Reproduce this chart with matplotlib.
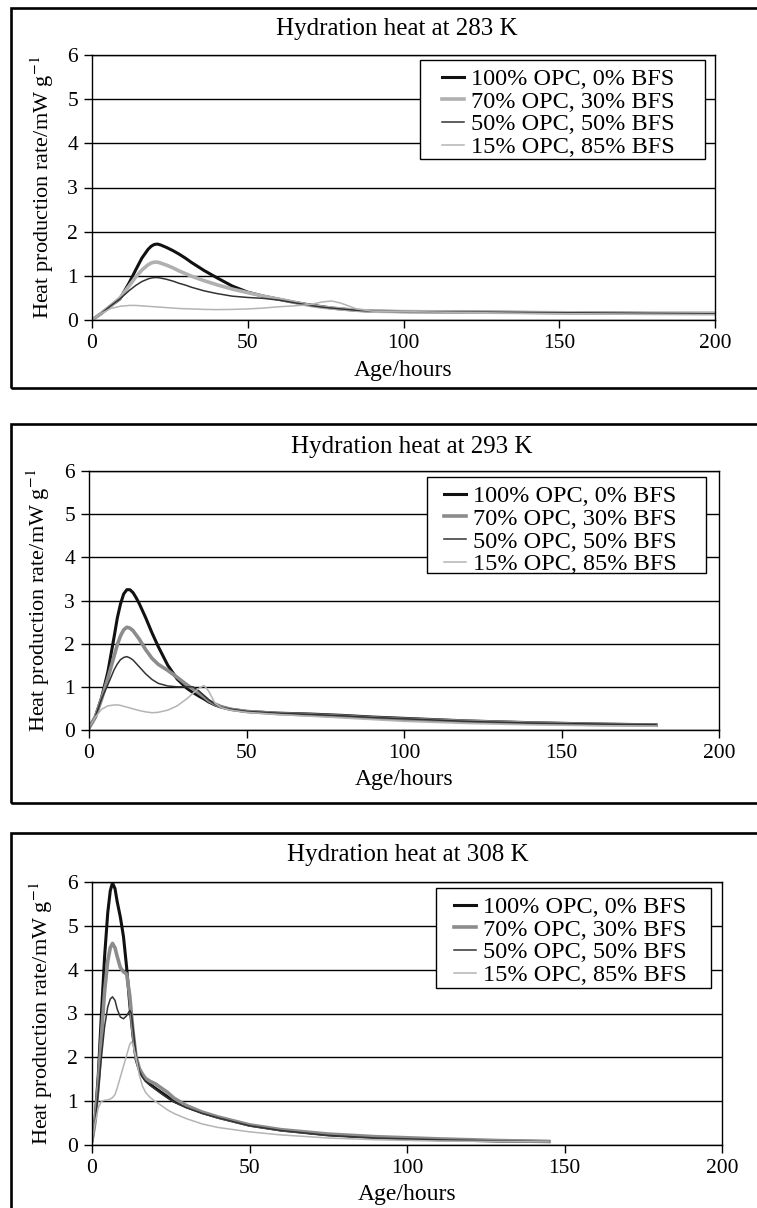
import numpy as np
import matplotlib
matplotlib.use('Agg')
import matplotlib.pyplot as plt
from matplotlib.patches import Rectangle

plt.rcParams['font.family'] = ['Liberation Serif', 'DejaVu Serif']
plt.rcParams['mathtext.fontset'] = 'stix'

labels = ['100% OPC, 0% BFS', '70% OPC, 30% BFS', '50% OPC, 50% BFS', '15% OPC, 85% BFS']

# 283 K
t283 = [0, 3, 6, 9, 12, 14, 16, 18, 19, 20, 21, 22, 24, 26, 28, 30, 32, 36, 40, 45, 50, 55, 60, 65,
        70, 74, 77, 80, 85, 90, 100, 120, 140, 160, 180, 200]
opc100_283 = [0, 0.15, 0.32, 0.48, 0.85, 1.13, 1.4, 1.6, 1.67, 1.71, 1.72, 1.7, 1.64, 1.57, 1.49, 1.4,
              1.3, 1.12, 0.96, 0.77, 0.63, 0.54, 0.47, 0.4, 0.34, 0.3, 0.27, 0.25, 0.22, 0.2, 0.19,
              0.18, 0.17, 0.16, 0.15, 0.15]
opc70_283 = [0, 0.15, 0.32, 0.5, 0.78, 0.97, 1.13, 1.25, 1.29, 1.31, 1.31, 1.29, 1.24, 1.18, 1.11, 1.05,
             0.99, 0.89, 0.8, 0.7, 0.62, 0.54, 0.47, 0.4, 0.33, 0.29, 0.27, 0.25, 0.22, 0.2, 0.19,
             0.18, 0.17, 0.16, 0.15, 0.15]
opc50_283 = [0, 0.15, 0.32, 0.48, 0.67, 0.78, 0.87, 0.93, 0.95, 0.96, 0.96, 0.95, 0.92, 0.88, 0.83, 0.79,
             0.74, 0.66, 0.6, 0.54, 0.51, 0.49, 0.45, 0.39, 0.33, 0.29, 0.27, 0.25, 0.22, 0.2, 0.19,
             0.18, 0.17, 0.16, 0.15, 0.14]
opc15_283 = [0, 0.15, 0.26, 0.31, 0.33, 0.33, 0.32, 0.31, 0.305, 0.3, 0.295, 0.29, 0.28, 0.27, 0.26, 0.255,
             0.25, 0.24, 0.235, 0.24, 0.25, 0.27, 0.3, 0.32, 0.35, 0.41, 0.43, 0.38, 0.25, 0.2, 0.19,
             0.17, 0.15, 0.14, 0.13, 0.12]

# 293 K
t293 = [0, 2, 4, 6, 8, 9, 10, 11, 12, 13, 14, 15, 16, 18, 20, 22, 25, 28, 31, 33, 35, 36.5, 38, 40,
        42, 45, 50, 60, 70, 80, 90, 100, 120, 140, 160, 180]
opc100_293 = [0.05, 0.3, 0.75, 1.35, 2.17, 2.6, 2.92, 3.15, 3.25, 3.25, 3.18, 3.06, 2.92, 2.6, 2.25, 1.93,
              1.5, 1.18, 0.97, 0.87, 0.78, 0.72, 0.65, 0.58, 0.53, 0.48, 0.43, 0.39, 0.37, 0.34, 0.3,
              0.27, 0.21, 0.17, 0.14, 0.12]
opc70_293 = [0.05, 0.3, 0.72, 1.2, 1.72, 1.98, 2.18, 2.32, 2.38, 2.36, 2.3, 2.2, 2.1, 1.86, 1.66, 1.52,
             1.38, 1.22, 1.05, 0.95, 0.85, 0.77, 0.68, 0.6, 0.54, 0.48, 0.43, 0.38, 0.35, 0.32, 0.28,
             0.25, 0.2, 0.16, 0.13, 0.11]
opc50_293 = [0.05, 0.3, 0.72, 1.05, 1.4, 1.53, 1.63, 1.68, 1.7, 1.67, 1.62, 1.54, 1.46, 1.3, 1.17, 1.08,
             1.02, 1.0, 1.0, 1.0, 0.9, 0.8, 0.7, 0.6, 0.53, 0.48, 0.43, 0.39, 0.36, 0.33, 0.29,
             0.26, 0.2, 0.16, 0.14, 0.12]
opc15_293 = [0.05, 0.3, 0.48, 0.56, 0.58, 0.58, 0.57, 0.55, 0.53, 0.51, 0.49, 0.47, 0.45, 0.42, 0.4, 0.41,
             0.46, 0.56, 0.72, 0.85, 0.97, 1.03, 0.9, 0.62, 0.52, 0.46, 0.41, 0.36, 0.32, 0.28, 0.24,
             0.2, 0.15, 0.12, 0.1, 0.09]

# 308 K
t308 = [0, 1, 2, 3, 4, 5, 5.8, 6.5, 7.3, 8, 9, 10, 11, 12, 12.5, 13, 14, 15, 16, 17, 18.5, 20, 22,
        24, 26, 30, 35, 40, 50, 60, 75, 90, 110, 130, 145]
opc100_308 = [0.1, 0.6, 1.6, 3.0, 4.3, 5.3, 5.8, 5.98, 5.85, 5.55, 5.2, 4.75, 4.05, 3.2, 2.85, 2.5, 1.95,
              1.72, 1.58, 1.48, 1.38, 1.3, 1.2, 1.1, 1.0, 0.87, 0.74, 0.63, 0.45, 0.34, 0.23, 0.17,
              0.12, 0.09, 0.08]
opc70_308 = [0.1, 0.55, 1.4, 2.5, 3.5, 4.2, 4.5, 4.6, 4.5, 4.3, 4.05, 3.95, 3.9, 3.4, 3.0, 2.6, 2.0,
             1.75, 1.62, 1.52, 1.45, 1.4, 1.3, 1.2, 1.07, 0.9, 0.75, 0.64, 0.46, 0.35, 0.25, 0.19,
             0.14, 0.1, 0.08]
opc50_308 = [0.1, 0.5, 1.2, 2.0, 2.7, 3.15, 3.33, 3.38, 3.3, 3.1, 2.92, 2.88, 2.95, 3.07, 3.0, 2.7, 2.05,
             1.7, 1.55, 1.45, 1.36, 1.28, 1.17, 1.07, 0.98, 0.85, 0.72, 0.62, 0.44, 0.33, 0.22, 0.16,
             0.12, 0.09, 0.07]
opc15_308 = [0.1, 0.5, 0.85, 1.0, 1.02, 1.03, 1.05, 1.08, 1.15, 1.3, 1.55, 1.8, 2.05, 2.3, 2.35, 2.3, 2.0,
             1.6, 1.35, 1.2, 1.08, 1.0, 0.9, 0.8, 0.72, 0.6, 0.48, 0.4, 0.3, 0.23, 0.16, 0.12,
             0.09, 0.08, 0.07]

W, H = 757, 1208
fig = plt.figure(figsize=(W / 100, H / 100), dpi=100)


def panel(ax_px, title, title_xy, t, series, grey70, box_px, handle_x):
    left, right, top, bottom = ax_px
    aw, ah = right - left, bottom - top
    ax = fig.add_axes([left / W, 1 - bottom / H, aw / W, ah / H])
    styles = [('#111111', 2.2), (grey70, 2.6), ('#333333', 1.1), ('#b4b4b4', 1.1)]
    for y, lab, (c, lw) in zip(series, labels, styles):
        ax.plot(t, y, color=c, lw=lw, label=lab, solid_joinstyle='round')
    ax.set_xlim(0, 200)
    ax.set_ylim(0, 6)
    ax.set_xticks([0, 50, 100, 150, 200])
    ax.set_yticks(range(7))
    ax.yaxis.grid(True, color='black', lw=1)
    ax.set_axisbelow(True)
    for s in ax.spines.values():
        s.set_linewidth(1)
    ax.tick_params(direction='out', length=6, width=1, labelsize=15.5, pad=4)
    ax.set_xlabel('Age/hours', fontsize=17)
    ax.xaxis.set_label_coords(0.5, -0.19)
    ax.xaxis.label.set_va('center')
    ax.set_ylabel('Heat production rate/mW g$^{-1}$', fontsize=16)
    ax.yaxis.set_label_coords(-0.08, 0.5)
    ax.yaxis.label.set_va('center')

    # legend box (white, hides the grid) and frameless legend on top
    bx0, bx1, by0, by1 = box_px
    ax.add_patch(Rectangle(((bx0 - left) / aw, (bottom - by1) / ah), (bx1 - bx0) / aw, (by1 - by0) / ah,
                           transform=ax.transAxes, facecolor='white', edgecolor='black', lw=1,
                           zorder=4, clip_on=False))
    leg = ax.legend(loc='upper left', bbox_to_anchor=((handle_x - left) / aw, (bottom - by0 - 8) / ah),
                    fontsize=17.5, frameon=False, handlelength=0.9, handletextpad=0.3,
                    labelspacing=0.03, borderpad=0, borderaxespad=0)
    leg.set_zorder(5)
    fig.text(title_xy[0] / W, 1 - title_xy[1] / H, title, fontsize=18, ha='center', va='center')
    return ax


panel((92, 715, 55, 320), 'Hydration heat at 283 K', (397, 29), t283,
      [opc100_283, opc70_283, opc50_283, opc15_283], '#b0b0b0', (420, 705, 60, 159), 442)
panel((89, 719, 471, 730), 'Hydration heat at 293 K', (412, 447), t293,
      [opc100_293, opc70_293, opc50_293, opc15_293], '#8c8c8c', (427, 706, 477, 573), 444)
panel((92, 722, 882, 1145), 'Hydration heat at 308 K', (408, 855), t308,
      [opc100_308, opc70_308, opc50_308, opc15_308], '#8c8c8c', (436, 711, 888, 988), 454)

# panel frames
for top, bottom in [(8, 388), (424, 803), (833, 1230)]:
    fig.patches.append(Rectangle((11 / W, 1 - bottom / H), 800 / W, (bottom - top) / H,
                                 transform=fig.transFigure, fill=False, ec='black', lw=1.9,
                                 clip_on=False))

fig.savefig('out.png', dpi=100)
